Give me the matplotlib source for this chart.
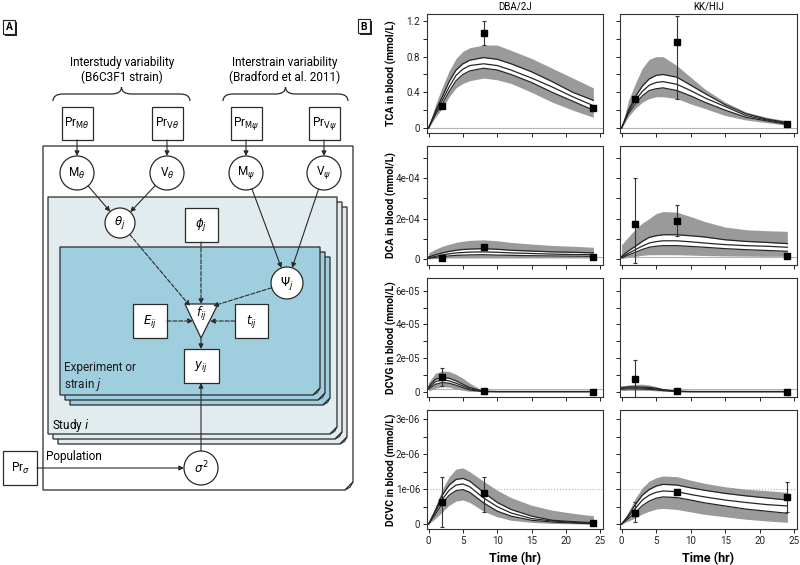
import numpy as np
import matplotlib
matplotlib.use("Agg")
import matplotlib.pyplot as plt
from matplotlib.patches import Polygon, Rectangle, Circle, PathPatch
from matplotlib.path import Path

plt.rcParams['font.family'] = ['Roboto', 'DejaVu Sans']

# ---------------- data ----------------
T = [0, 1, 2, 3, 4, 5, 6, 8, 10, 12, 15, 18, 21, 24]
obs_t = [2, 8, 24]

# TCA, mmol/L
tca_dba_hi95 = [0, 0.26, 0.46, 0.64, 0.78, 0.86, 0.90, 0.93, 0.93, 0.87, 0.78, 0.67, 0.56, 0.45]
tca_dba_hi = [0, 0.19, 0.35, 0.52, 0.65, 0.72, 0.76, 0.79, 0.77, 0.72, 0.63, 0.52, 0.40, 0.31]
tca_dba_med = [0, 0.17, 0.31, 0.46, 0.59, 0.66, 0.70, 0.72, 0.70, 0.65, 0.56, 0.46, 0.35, 0.25]
tca_dba_lo = [0, 0.15, 0.27, 0.41, 0.53, 0.60, 0.64, 0.67, 0.65, 0.60, 0.51, 0.40, 0.30, 0.20]
tca_dba_lo95 = [0, 0.12, 0.22, 0.35, 0.45, 0.50, 0.53, 0.56, 0.54, 0.50, 0.40, 0.29, 0.20, 0.12]
tca_dba_obs = [0.25, 1.07, 0.22]
tca_dba_err = [[0, 0.14, 0.02], [0, 0.13, 0.02]]

tca_kk_hi95 = [0, 0.31, 0.50, 0.67, 0.77, 0.80, 0.80, 0.70, 0.57, 0.44, 0.29, 0.18, 0.12, 0.08]
tca_kk_hi = [0, 0.20, 0.35, 0.47, 0.55, 0.59, 0.60, 0.57, 0.48, 0.39, 0.26, 0.16, 0.10, 0.06]
tca_kk_med = [0, 0.18, 0.31, 0.41, 0.48, 0.51, 0.52, 0.49, 0.42, 0.34, 0.24, 0.14, 0.09, 0.05]
tca_kk_lo = [0, 0.16, 0.27, 0.36, 0.42, 0.44, 0.45, 0.42, 0.36, 0.29, 0.20, 0.12, 0.08, 0.04]
tca_kk_lo95 = [0, 0.13, 0.22, 0.29, 0.33, 0.35, 0.35, 0.33, 0.27, 0.22, 0.14, 0.09, 0.06, 0.03]
tca_kk_obs = [0.33, 0.96, 0.04]
tca_kk_err = [[0.03, 0.64, 0], [0.03, 0.30, 0]]

# DCA, in 1e-4 mmol/L
dca_dba_hi95 = [0.30, 0.48, 0.63, 0.73, 0.82, 0.88, 0.92, 0.95, 0.90, 0.82, 0.74, 0.67, 0.63, 0.58]
dca_dba_hi = [0.10, 0.21, 0.30, 0.37, 0.43, 0.47, 0.49, 0.51, 0.48, 0.43, 0.39, 0.35, 0.33, 0.30]
dca_dba_med = [0.05, 0.13, 0.20, 0.25, 0.30, 0.32, 0.34, 0.35, 0.33, 0.30, 0.27, 0.24, 0.22, 0.21]
dca_dba_lo = [0.03, 0.08, 0.12, 0.15, 0.18, 0.19, 0.20, 0.21, 0.19, 0.18, 0.16, 0.15, 0.14, 0.13]
dca_dba_lo95 = [0, 0.02, 0.04, 0.05, 0.05, 0.05, 0.05, 0.05, 0.05, 0.05, 0.05, 0.05, 0.05, 0.05]
dca_dba_obs = [0.05, 0.58, 0.10]
dca_dba_err = [[0, 0, 0], [0, 0, 0]]

dca_kk_hi95 = [0.70, 1.10, 1.48, 1.78, 2.00, 2.25, 2.35, 2.32, 2.10, 1.86, 1.58, 1.45, 1.40, 1.37]
dca_kk_hi = [0.13, 0.40, 0.63, 0.87, 1.07, 1.15, 1.20, 1.20, 1.15, 1.09, 0.95, 0.87, 0.82, 0.76]
dca_kk_med = [0.08, 0.28, 0.46, 0.64, 0.79, 0.86, 0.90, 0.90, 0.85, 0.79, 0.71, 0.66, 0.63, 0.58]
dca_kk_lo = [0.05, 0.20, 0.33, 0.47, 0.58, 0.63, 0.66, 0.66, 0.62, 0.58, 0.51, 0.46, 0.42, 0.38]
dca_kk_lo95 = [0.02, 0.08, 0.13, 0.18, 0.21, 0.21, 0.21, 0.21, 0.19, 0.17, 0.15, 0.14, 0.13, 0.13]
dca_kk_obs = [1.75, 1.90, 0.13]
dca_kk_err = [[1.95, 0.78, 0], [2.25, 0.78, 0]]

# DCVG, in 1e-5 mmol/L
dcvg_dba_hi95 = [0.54, 1.10, 1.23, 1.20, 1.03, 0.80, 0.50, 0.04, 0.02, 0.02, 0.02, 0.02, 0.02, 0.02]
dcvg_dba_hi = [0.30, 0.74, 0.83, 0.80, 0.64, 0.44, 0.24, 0.02, 0.01, 0.01, 0.01, 0.01, 0.01, 0.01]
dcvg_dba_med = [0.20, 0.60, 0.70, 0.64, 0.50, 0.34, 0.16, 0.01, 0, 0, 0, 0, 0, 0]
dcvg_dba_lo = [0.14, 0.44, 0.54, 0.50, 0.38, 0.24, 0.10, 0, 0, 0, 0, 0, 0, 0]
dcvg_dba_lo95 = [0.04, 0.20, 0.30, 0.26, 0.16, 0.08, 0.02, 0, 0, 0, 0, 0, 0, 0]
dcvg_dba_obs = [0.90, 0.04, 0.0]
dcvg_dba_err = [[0.56, 0, 0], [0.50, 0, 0]]

dcvg_kk_hi95 = [0.30, 0.40, 0.44, 0.44, 0.40, 0.30, 0.16, 0.04, 0.02, 0.02, 0.02, 0.02, 0.02, 0.02]
dcvg_kk_hi = [0.26, 0.28, 0.28, 0.27, 0.25, 0.20, 0.12, 0.02, 0.01, 0.01, 0.01, 0.01, 0.01, 0.01]
dcvg_kk_med = [0.20, 0.22, 0.22, 0.21, 0.19, 0.15, 0.09, 0.01, 0, 0, 0, 0, 0, 0]
dcvg_kk_lo = [0.14, 0.16, 0.16, 0.15, 0.14, 0.10, 0.06, 0.01, 0, 0, 0, 0, 0, 0]
dcvg_kk_lo95 = [0.06, 0.08, 0.08, 0.08, 0.07, 0.05, 0.03, 0, 0, 0, 0, 0, 0, 0]
dcvg_kk_obs = [0.76, 0.04, 0.0]
dcvg_kk_err = [[1.06, 0, 0], [1.14, 0, 0]]

# DCVC, in 1e-6 mmol/L
dcvc_dba_hi95 = [0, 0.50, 1.00, 1.36, 1.58, 1.61, 1.50, 1.23, 0.97, 0.76, 0.54, 0.40, 0.31, 0.24]
dcvc_dba_hi = [0, 0.40, 0.83, 1.12, 1.28, 1.31, 1.23, 0.91, 0.62, 0.42, 0.23, 0.11, 0.07, 0.04]
dcvc_dba_med = [0, 0.35, 0.71, 0.97, 1.12, 1.15, 1.07, 0.75, 0.50, 0.32, 0.16, 0.09, 0.05, 0.02]
dcvc_dba_lo = [0, 0.28, 0.59, 0.83, 0.96, 0.99, 0.91, 0.61, 0.37, 0.23, 0.11, 0.06, 0.03, 0.01]
dcvc_dba_lo95 = [0, 0.16, 0.35, 0.54, 0.66, 0.69, 0.62, 0.37, 0.21, 0.11, 0.05, 0.02, 0.01, 0.0]
dcvc_dba_obs = [0.64, 0.88, 0.02]
dcvc_dba_err = [[0.72, 0.53, 0], [0.72, 0.46, 0]]

dcvc_kk_hi95 = [0, 0.35, 0.74, 1.04, 1.23, 1.33, 1.38, 1.36, 1.26, 1.17, 1.07, 1.00, 0.96, 0.91]
dcvc_kk_hi = [0, 0.26, 0.56, 0.83, 0.99, 1.09, 1.14, 1.12, 1.04, 0.97, 0.88, 0.81, 0.75, 0.69]
dcvc_kk_med = [0, 0.21, 0.45, 0.69, 0.83, 0.91, 0.95, 0.93, 0.85, 0.78, 0.69, 0.62, 0.56, 0.52]
dcvc_kk_lo = [0, 0.16, 0.33, 0.53, 0.66, 0.74, 0.78, 0.76, 0.69, 0.61, 0.52, 0.43, 0.37, 0.31]
dcvc_kk_lo95 = [0, 0.09, 0.18, 0.29, 0.37, 0.43, 0.45, 0.42, 0.35, 0.28, 0.21, 0.14, 0.09, 0.05]
dcvc_kk_obs = [0.33, 0.91, 0.78]
dcvc_kk_err = [[0.28, 0.03, 0.43], [0.29, 0.03, 0.43]]

strains = ['DBA/2J', 'KK/HIJ']
ylabels = ['TCA in blood (mmol/L)', 'DCA in blood (mmol/L)',
           'DCVG in blood (mmol/L)', 'DCVC in blood (mmol/L)']
units = [1, 1e-4, 1e-5, 1e-6]
ref_lines = [0, 0.1e-4, 0.14e-5, 1e-6]
ytick_major = [[0, 0.4, 0.8, 1.2], [0, 2e-4, 4e-4], [0, 2e-5, 4e-5, 6e-5], [0, 1e-6, 2e-6, 3e-6]]
ytick_labels = [['0', '0.4', '0.8', '1.2'], ['0', '2e-04', '4e-04'],
                ['0', '2e-05', '4e-05', '6e-05'], ['0', '1e-06', '2e-06', '3e-06']]
ytick_minor = [[0.2, 0.6, 1.0], [1e-4, 3e-4, 5e-4], [1e-5, 3e-5, 5e-5], [0.5e-6, 1.5e-6, 2.5e-6]]
ylims = [(-0.056, 1.278), (-0.3e-4, 5.6e-4), (-0.32e-5, 6.77e-5), (-0.14e-6, 3.27e-6)]

panels = [
    [(tca_dba_hi95, tca_dba_hi, tca_dba_med, tca_dba_lo, tca_dba_lo95, tca_dba_obs, tca_dba_err),
     (tca_kk_hi95, tca_kk_hi, tca_kk_med, tca_kk_lo, tca_kk_lo95, tca_kk_obs, tca_kk_err)],
    [(dca_dba_hi95, dca_dba_hi, dca_dba_med, dca_dba_lo, dca_dba_lo95, dca_dba_obs, dca_dba_err),
     (dca_kk_hi95, dca_kk_hi, dca_kk_med, dca_kk_lo, dca_kk_lo95, dca_kk_obs, dca_kk_err)],
    [(dcvg_dba_hi95, dcvg_dba_hi, dcvg_dba_med, dcvg_dba_lo, dcvg_dba_lo95, dcvg_dba_obs, dcvg_dba_err),
     (dcvg_kk_hi95, dcvg_kk_hi, dcvg_kk_med, dcvg_kk_lo, dcvg_kk_lo95, dcvg_kk_obs, dcvg_kk_err)],
    [(dcvc_dba_hi95, dcvc_dba_hi, dcvc_dba_med, dcvc_dba_lo, dcvc_dba_lo95, dcvc_dba_obs, dcvc_dba_err),
     (dcvc_kk_hi95, dcvc_kk_hi, dcvc_kk_med, dcvc_kk_lo, dcvc_kk_lo95, dcvc_kk_obs, dcvc_kk_err)],
]

W, H = 800, 565
fig = plt.figure(figsize=(8, 5.65), dpi=100)

# ---------------- panel A: the model diagram (pixel coordinates) ----------------
d = fig.add_axes([0, 0, 1, 1])
d.set_xlim(0, W)
d.set_ylim(H, 0)
d.axis('off')
d.patch.set_visible(False)
EC = '#2a2a2a'


def page(x0, y0, x1, y1, fc, fold=7):
    pts = [(x0, y0), (x1, y0), (x1, y1 - fold), (x1 - fold, y1), (x0, y1)]
    d.add_patch(Polygon(pts, closed=True, fc=fc, ec=EC, lw=0.9))
    d.add_patch(Polygon([(x1, y1 - fold), (x1 - fold, y1), (x1 - fold * 0.35, y1 - fold * 0.35)],
                        closed=True, fc='#d8d8d8', ec=EC, lw=0.7))


def box(cx, cy, w, h, label):
    d.add_patch(Rectangle((cx - w / 2, cy - h / 2), w, h, fc='white', ec=EC, lw=0.9))
    d.text(cx, cy, label, ha='center', va='center', fontsize=8.5)


def node(cx, cy, r, label):
    d.add_patch(Circle((cx, cy), r, fc='white', ec=EC, lw=0.9))
    d.text(cx, cy, label, ha='center', va='center', fontsize=8.5)


def arrow(p0, p1, dashed=False):
    d.annotate('', xy=p1, xytext=p0,
               arrowprops=dict(arrowstyle='-|>', color=EC, lw=0.8, ls='--' if dashed else '-',
                               shrinkA=0, shrinkB=0, mutation_scale=7))


def between(c0, r0, c1, r1):
    v = np.array(c1, float) - np.array(c0, float)
    u = v / np.hypot(*v)
    return tuple(np.array(c0) + r0 * u), tuple(np.array(c1) - r1 * u)


def brace(x0, x1, yb, yt):
    xm = (x0 + x1) / 2
    ym = yb - 7
    verts = [(x0, yb), (x0, ym), (x0 + 10, ym), (xm - 10, ym), (xm, ym), (xm, yt),
             (xm, ym), (xm + 10, ym), (x1 - 10, ym), (x1, ym), (x1, yb)]
    codes = [Path.MOVETO, Path.CURVE3, Path.CURVE3, Path.LINETO, Path.CURVE3, Path.CURVE3,
             Path.CURVE3, Path.CURVE3, Path.LINETO, Path.CURVE3, Path.CURVE3]
    d.add_patch(PathPatch(Path(verts, codes), fc='none', ec=EC, lw=0.9))


# braces and group titles
brace(53, 190, 101, 87)
brace(223, 348, 101, 87)
d.text(122, 70, 'Interstudy variability\n(B6C3F1 strain)', ha='center', va='center', fontsize=8.5,
       linespacing=1.1)
d.text(285, 70, 'Interstrain variability\n(Bradford et al. 2011)', ha='center', va='center',
       fontsize=8.5, linespacing=1.1)

# plates
page(43, 146, 353, 490, 'white', fold=8)
for k in (2, 1, 0):
    page(48 + 5 * k, 197 + 5 * k, 337 + 5 * k, 434 + 5 * k, '#e2ebee')
for k in (2, 1, 0):
    page(60 + 5 * k, 247 + 5 * k, 320 + 5 * k, 395 + 5 * k, '#9fcfde')

d.text(64, 377, 'Experiment or\nstrain $j$', ha='left', va='center', fontsize=8.5, color='#1a1a1a',
       linespacing=1.1)
d.text(52, 426, 'Study $i$', ha='left', va='center', fontsize=8.5)
d.text(46, 463, 'Population', ha='left', va='bottom', fontsize=8.5)

# hyperprior boxes and population-level nodes
tops = [(77, r'Pr$_{\mathrm{M}\theta}$', r'M$_\theta$'), (167, r'Pr$_{\mathrm{V}\theta}$', r'V$_\theta$'),
        (246, r'Pr$_{\mathrm{M}\psi}$', r'M$_\psi$'), (324, r'Pr$_{\mathrm{V}\psi}$', r'V$_\psi$')]
for cx, pr, par in tops:
    box(cx, 123.5, 31, 33, pr)
    node(cx, 173, 17, par)
    arrow((cx, 140), (cx, 156))

theta = (120, 223)
psi = (287, 283)
node(*theta, 15, r'$\theta_j$')
box(201, 225, 33, 34, r'$\phi_j$')
node(*psi, 16, r'$\Psi_j$')

for c0, c1, r1 in [((77, 173), theta, 15), ((167, 173), theta, 15),
                   ((246, 173), psi, 16), ((324, 173), psi, 16)]:
    arrow(*between(c0, 17, c1, r1))

# f_ij triangle and data nodes
d.add_patch(Polygon([(185, 304), (218, 304), (201, 338)], closed=True, fc='white', ec=EC, lw=0.9))
d.text(201.5, 314, r'$f_{ij}$', ha='center', va='center', fontsize=8.5)
box(150, 321, 34, 34, r'$E_{ij}$')
box(251.5, 321, 33, 34, r'$t_{ij}$')
box(201, 366, 35, 34, r'$y_{ij}$')
node(201, 468, 17, r'$\sigma^2$')
box(20, 468, 34, 34, r'Pr$_\sigma$')

arrow(between(theta, 15, (190, 306), 0)[0], (190, 306), dashed=True)
arrow((201, 242), (201, 304), dashed=True)
arrow(between(psi, 16, (213, 306), 0)[0], (213, 306), dashed=True)
arrow((167, 321), (193, 321), dashed=True)
arrow((235, 321), (210, 321), dashed=True)
arrow((201, 338), (201, 349))
arrow((201, 451), (201, 383))
arrow((37, 468), (184, 468))


def tag(x0, y0, letter):
    d.add_patch(Rectangle((x0 + 1.5, y0 + 1.5), 12, 14, fc='#222222', ec='none'))
    d.add_patch(Rectangle((x0, y0), 12, 14, fc='white', ec='#222222', lw=0.8))
    d.text(x0 + 6, y0 + 7.5, letter, ha='center', va='center', fontsize=7.5, fontweight='bold')


tag(3, 20, 'A')
tag(358, 19, 'B')

# ---------------- panel B: PK predictions ----------------
col_px = [(427, 603), (620, 797)]
row_px = [(14, 133), (146, 265), (278, 397), (410, 529)]


def px_axes(l, t, r, b):
    return fig.add_axes([l / W, 1 - b / H, (r - l) / W, (b - t) / H])


for i, (top, bot) in enumerate(row_px):
    u = units[i]
    for j, (left, right) in enumerate(col_px):
        hi95, hi, med, lo, lo95, obs, err = panels[i][j]
        ax = px_axes(left, top, right, bot)
        ax.fill_between(T, np.array(lo95) * u, np.array(hi95) * u, color='#9a9a9a', lw=0, zorder=1)
        ax.fill_between(T, np.array(lo) * u, np.array(hi) * u, color='white', lw=0, zorder=2)
        for s in (hi, med, lo):
            ax.plot(T, np.array(s) * u, color='#262626', lw=0.9, zorder=3)
        ax.axhline(ref_lines[i], color='#b5b5b5', lw=0.8, ls=':' if i == 3 else '-', zorder=0.5)
        ax.errorbar(obs_t, np.array(obs) * u, yerr=np.array(err) * u, fmt='s', color='black',
                    ms=4.5, ecolor='#333333', elinewidth=0.8, capsize=1.5, capthick=0.8, zorder=4)

        ax.set_xlim(-0.23, 25.4)
        ax.set_ylim(*ylims[i])
        ax.set_xticks([0, 5, 10, 15, 20, 25])
        ax.set_yticks(ytick_major[i])
        ax.set_yticks(ytick_minor[i], minor=True)
        ax.tick_params(which='both', direction='out', length=3, width=0.7, labelsize=7,
                       pad=2, colors='#222222')
        if j == 0:
            ax.set_yticklabels(ytick_labels[i])
        else:
            ax.set_yticklabels([])
        if i < 3:
            ax.set_xticklabels([])
        for sp in ax.spines.values():
            sp.set_linewidth(0.8)
            sp.set_color('#333333')
        if i == 0:
            ax.text(0.5, 1.06, strains[j], transform=ax.transAxes, ha='center', va='center',
                    fontsize=7)
        if i == 3:
            ax.text(0.5, -0.245, 'Time (hr)', transform=ax.transAxes, ha='center', va='center',
                    fontsize=9, fontweight='bold')
    fig.text(391 / W, 1 - (top + bot) / 2 / H, ylabels[i], rotation=90, ha='center', va='center',
             fontsize=7.5, fontweight='bold')

fig.savefig('out.png', dpi=100)
